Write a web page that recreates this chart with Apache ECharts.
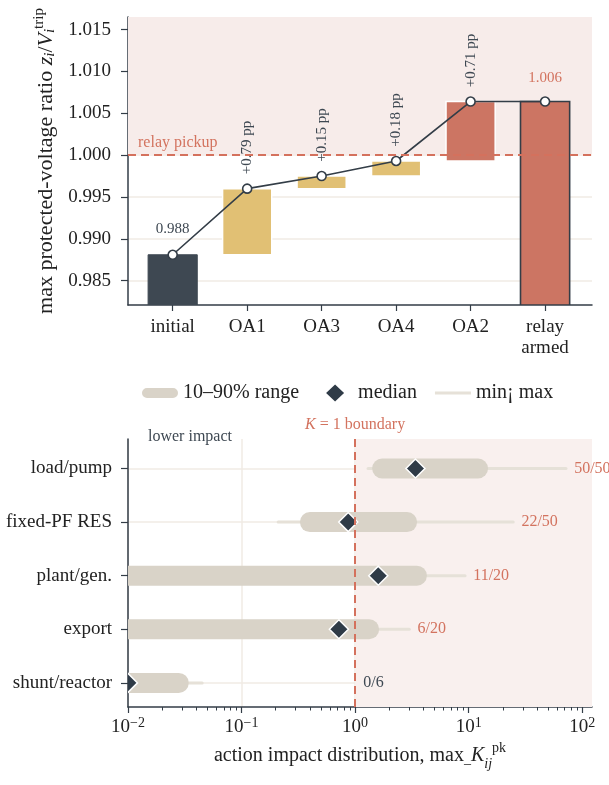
<!DOCTYPE html>
<html>
<head>
<meta charset="utf-8">
<script src="https://cdn.jsdelivr.net/npm/echarts@6/dist/echarts.min.js"></script>
<style>
  html, body { margin: 0; padding: 0; background: #ffffff; }
  #chart { width: 609px; height: 785px; }
</style>
</head>
<body>
<div id="chart"></div>
<script>
// ---- waterfall: protected-voltage ratio after each operator action ----
const steps = ['initial', 'OA1', 'OA3', 'OA4', 'OA2', 'relay\narmed'];
const initialRatio = 0.9881;
const stepGainsPp = [0.79, 0.15, 0.18, 0.71];
const ratioTicks = [0.985, 0.990, 0.995, 1.000, 1.005, 1.010, 1.015];
const pickupRatio = 1.0;
const ratioMin = 0.9821;
const ratioMax = 1.0165;

// ---- action-class impact distribution (rows listed bottom to top) ----
const actionClasses = ['shunt/reactor', 'export', 'plant/gen.', 'fixed-PF RES', 'load/pump'];
const impactMin    = [0.001, 0.001, 0.002, 0.21, 1.3];
const impactP10    = [0.002, 0.003, 0.004, 0.40, 1.73];
const impactMedian = [0.010, 0.72, 1.6, 0.87, 3.4];
const impactP90    = [0.028, 1.33, 3.5, 2.87, 12.1];
const impactMax    = [0.045, 3.0, 9.3, 24.7, 72];
const armedCounts  = ['0/6', '6/20', '11/20', '22/50', '50/50'];
const impactTicks  = [0.01, 0.1, 1, 10, 100];
const impactMinAxis = 0.01;
const impactMaxAxis = 122;
const boundaryK = 1;

// ---- derived series ----
const cumulative = [initialRatio];
stepGainsPp.forEach(g => cumulative.push(cumulative[cumulative.length - 1] + g / 100));
cumulative.push(cumulative[cumulative.length - 1]);
const last = steps.length - 1;

const barData = steps.map((s, i) => {
  if (i === 0 || i === last) return [i, ratioMin, cumulative[i]];
  return [i, cumulative[i - 1], cumulative[i]];
});

const minorTicks = [];
impactTicks.forEach(d => { for (let k = 2; k <= 9; k++) { if (d * k <= impactMaxAxis) minorTicks.push(d * k); } });

// ---- palette ----
const SERIF = '"Liberation Serif", "DejaVu Serif", serif';
const INK = '#222222';
const SLATE = '#333d47';
const BASE = '#3e4852';
const MUSTARD = '#e1c074';
const TERRA = '#cc7563';
const TERRA_TXT = '#d3735f';
const DASH = '#d4715d';
const GRID = '#f0ebe5';
const PILL = '#d9d3c8';
const WHISK = '#e6e1d8';
const DIAMOND = '#2f3b47';

const barStyle = (i, hi) => {
  if (i === 0) return { fill: BASE, stroke: BASE, lineWidth: 1 };
  if (i === last) return { fill: TERRA, stroke: SLATE, lineWidth: 1.6 };
  if (hi > pickupRatio) return { fill: TERRA, stroke: '#ffffff', lineWidth: 1.5 };
  return { fill: MUSTARD, stroke: '#ffffff', lineWidth: 1.5 };
};

const stepLabel = i => {
  if (i === 0) return { show: true, position: 'top', distance: 13, formatter: cumulative[0].toFixed(3), color: '#3e4852', fontSize: 15, fontFamily: SERIF };
  if (i === last) return { show: true, position: 'top', distance: 11, formatter: cumulative[last].toFixed(3), color: TERRA_TXT, fontSize: 15, fontFamily: SERIF };
  return { show: true, position: 'top', distance: 9, rotate: 90, align: 'left', verticalAlign: 'middle',
           formatter: '+' + stepGainsPp[i - 1].toFixed(2) + ' pp', color: '#3e4852', fontSize: 15, fontFamily: SERIF };
};

const lineData = cumulative.map((v, i) => ({ value: [i, v], label: stepLabel(i) }));

const sup = { fontSize: 14, lineHeight: 10, verticalAlign: 'top', fontFamily: SERIF, color: INK };
const axisLine = { show: true, onZero: false, lineStyle: { color: SLATE, width: 1.5 } };

const option = {
  animation: false,
  backgroundColor: '#ffffff',
  textStyle: { fontFamily: SERIF },
  grid: [
    { left: 128, top: 17, width: 464, height: 288, outerBoundsMode: 'none' },
    { left: 128, top: 439, width: 464, height: 268, outerBoundsMode: 'none' }
  ],
  legend: {
    left: 137, top: 378,
    itemWidth: 36, itemHeight: 18, itemGap: 18,
    textStyle: { fontSize: 20, fontFamily: SERIF, color: INK },
    data: [
      { name: '10–90% range', icon: 'path://M0,0h0.01v0.01h-0.01Z M36,18h-0.01v-0.01h0.01Z M5,4H31A5,5 0 0 1 31,14H5A5,5 0 0 1 5,4Z' },
      { name: 'median', icon: 'path://M0,0h0.01v0.01h-0.01Z M36,18h-0.01v-0.01h0.01Z M18,0.5L27,9L18,17.5L9,9Z' },
      { name: 'min¡ max', icon: 'path://M0,0h0.01v0.01h-0.01Z M36,18h-0.01v-0.01h0.01Z M0,7.5H36V10.5H0Z' }
    ]
  },
  xAxis: [
    {
      gridIndex: 0, type: 'value', min: -0.6, max: 5.63, position: 'bottom',
      axisLine: axisLine,
      axisTick: { show: true, customValues: steps.map((s, i) => i), length: 6, lineStyle: { color: SLATE, width: 1.2 } },
      axisLabel: { customValues: steps.map((s, i) => i), formatter: v => steps[Math.round(v)], color: INK, fontSize: 19, fontFamily: SERIF, lineHeight: 21, margin: 12 },
      splitLine: { show: false }
    },
    {
      gridIndex: 1, type: 'log', logBase: 10, min: impactMinAxis, max: impactMaxAxis, position: 'bottom',
      axisLine: axisLine,
      axisTick: { show: true, customValues: impactTicks, length: 6, lineStyle: { color: SLATE, width: 1.2 } },
      axisLabel: {
        customValues: impactTicks, color: INK, fontSize: 19, fontFamily: SERIF, margin: 9, lineHeight: 22,
        formatter: v => '10{sup|' + String(Math.round(Math.log10(v))).replace('-', '−') + '}',
        rich: { sup: sup }
      },
      splitLine: { show: true, lineStyle: { color: GRID, width: 1.5 } },
      name: 'action impact distribution, max{lo|–}{k|K}{sub|ij}{sp|pk}',
      nameLocation: 'middle', nameGap: 34,
      nameTextStyle: {
        fontSize: 20, fontFamily: SERIF, color: INK, lineHeight: 30, verticalAlign: 'top',
        rich: {
          k: { fontSize: 20, fontStyle: 'italic', fontFamily: SERIF, color: INK, lineHeight: 24, verticalAlign: 'middle' },
          lo: { fontSize: 14, fontFamily: SERIF, color: INK, lineHeight: 20, verticalAlign: 'bottom' },
          sub: { fontSize: 14, fontStyle: 'italic', fontFamily: SERIF, color: INK, lineHeight: 14, verticalAlign: 'bottom' },
          sp: { fontSize: 14, fontFamily: SERIF, color: INK, lineHeight: 16, verticalAlign: 'top' }
        }
      }
    },
    {
      gridIndex: 1, type: 'log', logBase: 10, min: impactMinAxis, max: impactMaxAxis, position: 'bottom',
      axisLine: { show: false, onZero: false },
      axisTick: { show: true, customValues: minorTicks, length: 3.5, lineStyle: { color: SLATE, width: 1 } },
      axisLabel: { show: false },
      splitLine: { show: false }
    }
  ],
  yAxis: [
    {
      gridIndex: 0, type: 'value', min: ratioMin, max: ratioMax, position: 'left',
      axisLine: axisLine,
      axisTick: { show: true, customValues: ratioTicks, length: 7, lineStyle: { color: SLATE, width: 1.2 } },
      axisLabel: { customValues: ratioTicks, formatter: v => v.toFixed(3), color: INK, fontSize: 19, fontFamily: SERIF, margin: 17 },
      splitLine: { show: true, lineStyle: { color: GRID, width: 1.5 } },
      name: '{t|max protected-voltage ratio }{i|z}{sub|i}{t|/}{i|V}{sub|i}{sp|trip}',
      nameLocation: 'middle', nameGap: 65, nameRotate: 90,
      nameTextStyle: {
        rich: {
          t: { fontSize: 22, fontFamily: SERIF, color: INK, lineHeight: 26, verticalAlign: 'bottom' },
          i: { fontSize: 22, fontStyle: 'italic', fontFamily: SERIF, color: INK, lineHeight: 26, verticalAlign: 'bottom' },
          sub: { fontSize: 15, fontStyle: 'italic', fontFamily: SERIF, color: INK, lineHeight: 15, verticalAlign: 'bottom' },
          sp: { fontSize: 15, fontFamily: SERIF, color: INK, lineHeight: 16, verticalAlign: 'top' }
        }
      }
    },
    {
      gridIndex: 1, type: 'value', min: -0.45, max: 4.55, position: 'left',
      axisLine: axisLine,
      axisTick: { show: true, customValues: actionClasses.map((c, i) => i), length: 7, lineStyle: { color: SLATE, width: 1.2 } },
      axisLabel: { customValues: actionClasses.map((c, i) => i), formatter: v => actionClasses[Math.round(v)], color: INK, fontSize: 19, fontFamily: SERIF, margin: 16 },
      splitLine: { show: true, lineStyle: { color: GRID, width: 1.5 } }
    }
  ],
  series: [
    // pickup zone and threshold
    {
      type: 'line', xAxisIndex: 0, yAxisIndex: 0, data: [], z: 1,
      markArea: { silent: true, itemStyle: { color: '#f7ecea' }, data: [[{ yAxis: pickupRatio }, { yAxis: ratioMax }]] },
      markLine: {
        silent: true, symbol: 'none',
        lineStyle: { color: DASH, width: 2, type: [8, 5] },
        label: { show: true, position: 'insideStartTop', formatter: 'relay pickup', color: TERRA_TXT, fontSize: 16, fontFamily: SERIF, distance: [10, 4] },
        data: [{ yAxis: pickupRatio }]
      }
    },
    // waterfall bars
    {
      type: 'custom', xAxisIndex: 0, yAxisIndex: 0, z: 2, clip: true,
      data: barData,
      encode: { x: 0, y: [1, 2] },
      renderItem: (params, api) => {
        const i = api.value(0), lo = api.value(1), hi = api.value(2);
        const w = 0.66;
        const a = api.coord([i - w / 2, hi]);
        const b = api.coord([i + w / 2, lo]);
        return { type: 'rect', shape: { x: a[0], y: a[1], width: b[0] - a[0], height: b[1] - a[1] }, style: barStyle(i, hi) };
      }
    },
    // cumulative path
    {
      type: 'line', xAxisIndex: 0, yAxisIndex: 0, z: 3,
      data: lineData,
      symbol: 'circle', symbolSize: 9,
      itemStyle: { color: '#ffffff', borderColor: SLATE, borderWidth: 1.6 },
      lineStyle: { color: SLATE, width: 1.6 }
    },
    // K = 1 boundary and armed zone
    {
      type: 'line', xAxisIndex: 1, yAxisIndex: 1, data: [], z: 1,
      markArea: { silent: true, itemStyle: { color: '#f9f0ee' }, data: [[{ xAxis: boundaryK }, { xAxis: impactMaxAxis }]] },
      markLine: {
        silent: true, symbol: 'none',
        lineStyle: { color: DASH, width: 2, type: [8, 5] },
        label: {
          show: true, position: 'end', distance: 6, formatter: '{k|K} = 1 boundary',
          color: TERRA_TXT, fontSize: 16, fontFamily: SERIF,
          rich: { k: { fontStyle: 'italic', fontSize: 16, fontFamily: SERIF, color: TERRA_TXT } }
        },
        data: [{ xAxis: boundaryK }]
      }
    },
    {
      name: 'min¡ max', type: 'custom', xAxisIndex: 1, yAxisIndex: 1, z: 2, clip: true,
      itemStyle: { color: WHISK },
      data: actionClasses.map((c, i) => [impactMin[i], i, impactMax[i]]),
      encode: { x: [0, 2], y: 1 },
      renderItem: (params, api) => {
        const a = api.coord([api.value(0), api.value(1)]);
        const b = api.coord([api.value(2), api.value(1)]);
        return { type: 'line', shape: { x1: a[0], y1: a[1], x2: b[0], y2: b[1] }, style: { stroke: WHISK, lineWidth: 3, lineCap: 'round' } };
      }
    },
    {
      name: '10–90% range', type: 'custom', xAxisIndex: 1, yAxisIndex: 1, z: 3, clip: true,
      itemStyle: { color: PILL },
      data: actionClasses.map((c, i) => [impactP10[i], i, impactP90[i]]),
      encode: { x: [0, 2], y: 1 },
      renderItem: (params, api) => {
        const a = api.coord([api.value(0), api.value(1)]);
        const b = api.coord([api.value(2), api.value(1)]);
        return { type: 'line', shape: { x1: a[0], y1: a[1], x2: b[0], y2: b[1] }, style: { stroke: PILL, lineWidth: 20, lineCap: 'round' } };
      }
    },
    {
      name: 'median', type: 'custom', xAxisIndex: 1, yAxisIndex: 1, z: 4, clip: true,
      itemStyle: { color: DIAMOND },
      data: actionClasses.map((c, i) => [impactMedian[i], i]),
      encode: { x: 0, y: 1 },
      renderItem: (params, api) => {
        const p = api.coord([api.value(0), api.value(1)]);
        const r = 9.5;
        return {
          type: 'polygon',
          shape: { points: [[p[0], p[1] - r], [p[0] + r, p[1]], [p[0], p[1] + r], [p[0] - r, p[1]]] },
          style: { fill: DIAMOND, stroke: '#ffffff', lineWidth: 1.5 }
        };
      }
    },
    // armed counts
    {
      type: 'custom', xAxisIndex: 1, yAxisIndex: 1, z: 5,
      data: actionClasses.map((c, i) => [Math.max(impactMax[i], boundaryK) * 1.18, i]),
      encode: { x: 0, y: 1 },
      renderItem: (params, api) => {
        const p = api.coord([api.value(0), api.value(1)]);
        const txt = armedCounts[params.dataIndex];
        const armed = parseInt(txt, 10) > 0;
        return {
          type: 'text', x: p[0], y: p[1],
          style: { text: txt, fill: armed ? TERRA_TXT : '#3e4852', fontSize: 16, fontFamily: SERIF, align: 'left', verticalAlign: 'middle' }
        };
      }
    }
  ],
  graphic: [
    { type: 'text', left: 148, top: 429, style: { text: 'lower impact', fill: '#3e4852', fontSize: 16, fontFamily: SERIF } }
  ]
};

const chart = echarts.init(document.getElementById('chart'));
chart.setOption(option);
</script>
</body>
</html>
